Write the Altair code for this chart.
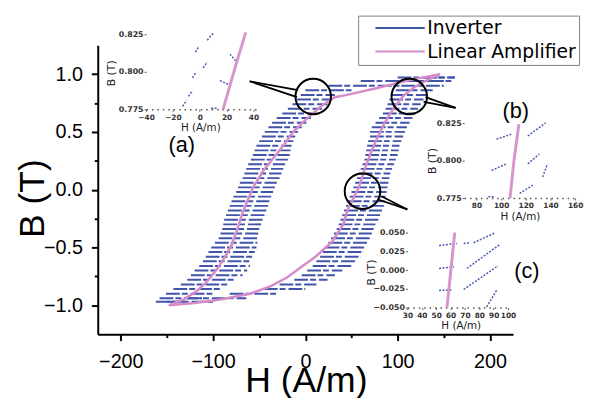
import altair as alt
import pandas as pd

# ---------------- main axes ----------------
x_ticks = [-200, -150, -100, -50, 0, 50, 100, 150, 200]
y_ticks = [-1.0, -0.75, -0.5, -0.25, 0.0, 0.25, 0.5, 0.75, 1.0]
series_names = ["Inverter", "Linear Amplifier"]
series_colors = ["#4254aa", "#d68cc8"]

# ---------------- inverter band (B level, left H, right H) ----------------
desc_B = [0.97, 0.94, 0.90, 0.86, 0.82, 0.78, 0.74, 0.70, 0.66, 0.62, 0.58, 0.54, 0.50,
          0.46, 0.42, 0.38, 0.34, 0.30, 0.26, 0.22, 0.18, 0.14, 0.10, 0.06, 0.02, -0.02,
          -0.06, -0.10, -0.14, -0.18, -0.22, -0.26, -0.30, -0.34, -0.38, -0.42, -0.46,
          -0.50, -0.54, -0.58, -0.62, -0.66, -0.70, -0.74, -0.78, -0.82, -0.86, -0.90,
          -0.94, -0.97]
desc_L = [100, 60, 25, 0, -5, -9, -14, -19, -25, -31, -36, -40, -44,
          -47, -50, -53, -55, -57, -59, -62, -64, -66, -68, -71, -73, -75,
          -78, -80, -82, -84, -86, -88, -89, -90, -92, -94, -98,
          -102, -105, -108, -111, -115, -120, -124, -128, -135, -143, -151,
          -158, -162]
desc_R = [162, 150, 105, 50, 32, 28, 24, 18, 12, 6, 1, -4, -8,
          -11, -13, -15, -16, -17, -19, -22, -24, -26, -28, -31, -33, -35,
          -37, -39, -40, -41, -42, -45, -48, -50, -51, -51, -52,
          -53, -54, -56, -58, -60, -63, -68, -76, -82, -90, -100,
          -112, -130]

asc_B = [-0.97, -0.94, -0.90, -0.86, -0.82, -0.78, -0.74, -0.70, -0.66, -0.62, -0.58,
         -0.54, -0.50, -0.46, -0.42, -0.38, -0.34, -0.30, -0.26, -0.22, -0.18, -0.14,
         -0.10, -0.06, -0.02, 0.02, 0.06, 0.10, 0.14, 0.18, 0.22, 0.26, 0.30, 0.34,
         0.38, 0.42, 0.46, 0.50, 0.54, 0.58, 0.62, 0.66, 0.70, 0.74, 0.78, 0.82, 0.86,
         0.90, 0.94, 0.97]
asc_L = [-150, -128, -82, -45, -28, -12, -4, 2, 8, 12, 16,
         19, 22, 25, 28, 31, 34, 36, 38, 40, 42, 44,
         46, 48, 50, 52, 54, 56, 58, 60, 62, 64, 65, 66,
         67, 68, 70, 70, 72, 76, 80, 84, 87, 89, 91, 93, 98,
         104, 108, 128]
asc_R = [-100, -64, -30, 0, 12, 24, 32, 40, 50, 55, 60,
         63, 66, 68, 70, 72, 74, 76, 79, 81, 83, 85,
         86, 87, 88, 89, 90, 91, 92, 94, 96, 98, 100, 101,
         102, 104, 106, 108, 110, 113, 116, 119, 122, 125, 128, 131, 138,
         150, 160, 162]

# ---------------- linear amplifier loop ----------------
pink_H = [146, 114, 78, 45, 32, 20, 8, -3, -13, -24, -32, -45, -56, -63, -69, -74, -80,
          -87, -95, -106, -118, -132, -148,
          -120, -92, -60, -39, -20, -3, 11, 29, 41, 46, 53, 58, 64, 71, 78, 86, 96, 106,
          117, 130, 146]
pink_B = [1.00, 0.95, 0.88, 0.82, 0.80, 0.74, 0.66, 0.58, 0.50, 0.38, 0.30, 0.17, 0.03,
          -0.10, -0.22, -0.35, -0.48, -0.58, -0.68, -0.79, -0.88, -0.95, -1.00,
          -0.98, -0.95, -0.90, -0.84, -0.76, -0.66, -0.58, -0.45, -0.30, -0.17, -0.06,
          0.02, 0.17, 0.32, 0.45, 0.58, 0.71, 0.81, 0.88, 0.94, 1.00]

# ---------------- magnifier circles and their tails ----------------
circle_H = [8.5, 112.6, 61.9]
circle_B = [0.806, 0.806, -0.013]
tail_H1 = [-8.0, -9.1, 130.2, 128.1, 82.4, 78.8]
tail_B1 = [0.861, 0.801, 0.801, 0.759, -0.057, -0.085]
tail_H2 = [-60.3, -60.3, 162.8, 162.8, 110.5, 110.5]
tail_B2 = [0.938, 0.938, 0.708, 0.708, -0.171, -0.171]
panel_text = ["(a)", "(b)", "(c)"]
panel_H = [-133.9, 228.0, 240.1]
panel_B = [0.39, 0.682, -0.708]

# ---------------- inset (a) ----------------
a_x_ticks = [-40, -20, 0, 20, 40]
a_y_ticks = [0.775, 0.800, 0.825]
a_pink_H = [17.4, 27.6, 34.3]
a_pink_B = [0.775, 0.8066, 0.8263]
a_seg_H1 = [5.6, -3.2, 22.5, 2.6, -5.4, 15.1, -8.4, -12.8, 8.5]
a_seg_B1 = [0.8211, 0.8132, 0.8118, 0.8026, 0.7960, 0.7941, 0.7836, 0.7770, 0.7757]
a_seg_H2 = [10.0, -0.3, 26.9, 5.6, -2.5, 21.8, -5.4, -9.9, 12.9]
a_seg_B2 = [0.8257, 0.8171, 0.8072, 0.8066, 0.8000, 0.7914, 0.7875, 0.7809, 0.7757]

# ---------------- inset (b) ----------------
b_x_ticks = [80, 100, 120, 140, 160]
b_y_ticks = [0.775, 0.800, 0.825]
b_pink_H = [107.2, 110.4, 114.4]
b_pink_B = [0.775, 0.800, 0.8243]
b_seg_H1 = [96.2, 92.2, 121.6, 121.6, 115.0, 133.6, 89.6]
b_seg_B1 = [0.8143, 0.7934, 0.8164, 0.7978, 0.7781, 0.7890, 0.7759]
b_seg_H2 = [108.2, 104.2, 136.2, 131.0, 125.6, 137.6, 95.0]
b_seg_B2 = [0.8176, 0.7978, 0.8252, 0.8044, 0.7836, 0.7978, 0.7759]

# ---------------- inset (c) ----------------
c_x_ticks = [30, 40, 50, 60, 70, 80, 90, 100]
c_y_ticks = [-0.050, -0.025, 0.000, 0.025, 0.050]
c_pink_H = [57.5, 60.2, 62.9]
c_pink_B = [-0.05, 0.0, 0.05]
c_seg_H1 = [52.0, 69.1, 76.0, 52.0, 71.4, 52.0, 69.1, 85.1]
c_seg_B1 = [0.0329, 0.0355, 0.0364, 0.0022, 0.0022, -0.0272, -0.0259, -0.0491]
c_seg_H2 = [64.5, 73.7, 90.9, 62.3, 94.3, 61.1, 93.1, 92.0]
c_seg_B2 = [0.0355, 0.0364, 0.0496, 0.0043, 0.0342, -0.0263, 0.0057, -0.0272]

INSET_BLUE = "#4a5ab2"
INSET_PINK = "#d795ce"

# ---------------- main layer ----------------
band_df = pd.DataFrame({"B": desc_B + asc_B, "L": desc_L + asc_L, "R": desc_R + asc_R,
                        "series": "Inverter"})
pink_df = pd.DataFrame({"H": pink_H, "B": pink_B, "idx": list(range(len(pink_H))),
                        "series": "Linear Amplifier"})
circ_df = pd.DataFrame({"H": circle_H, "B": circle_B})
tail_df = pd.DataFrame({"H1": tail_H1, "B1": tail_B1, "H2": tail_H2, "B2": tail_B2})
lab_df = pd.DataFrame({"H": panel_H, "B": panel_B, "t": panel_text})

xs = alt.Scale(domain=[-225, 225], nice=False, zero=False)
ys = alt.Scale(domain=[-1.25, 1.25], nice=False, zero=False)
cscale = alt.Scale(domain=series_names, range=series_colors)

common_axis = dict(grid=False, domainColor="black", domainWidth=2, tickColor="black",
                   tickWidth=2, labelFont="Liberation Sans", labelFontSize=20,
                   labelColor="black", labelFlush=False, labelOverlap=False,
                   titleFont="Liberation Sans", titleFontSize=36, titleFontWeight="normal",
                   titleColor="black", titleBaseline="middle", titleAlign="center")

x_axis = alt.Axis(orient="bottom", values=x_ticks, format="d", title="H (A/m)",
                  labelExpr="abs(datum.value) % 100 == 0 ? datum.label : ''",
                  tickSize={"condition": {"test": "abs(datum.value) % 100 != 0", "value": 3.5},
                            "value": 6.5},
                  labelPadding=11, titleX=211, titleY=47, **common_axis)
y_axis = alt.Axis(orient="left", values=y_ticks, format=".1f", title="B (T)",
                  labelExpr="abs(datum.value * 100) % 50 == 0 ? datum.label : ''",
                  tickSize={"condition": {"test": "abs(datum.value * 100) % 50 != 0", "value": 3.5},
                            "value": 6.5},
                  labelPadding=9, titleX=-65.5, titleY=155, titleAngle=-90, **common_axis)

legend = alt.Legend(title=None, orient="none", legendX=264, legendY=-30,
                    symbolType="M-5,0H5", symbolSize=100, symbolStrokeWidth=2,
                    symbolOffset=30, labelFont="DejaVu Sans",
                    labelFontSize=19, labelColor="black", padding=3, rowPadding=4,
                    labelOffset=18, strokeColor="#808080", fillColor="white", cornerRadius=0)

band = alt.Chart(band_df).mark_rule(strokeWidth=2, strokeDash=[14, 2, 6, 3]).encode(
    x=alt.X("L:Q", scale=xs, axis=x_axis), x2="R:Q",
    y=alt.Y("B:Q", scale=ys, axis=y_axis),
    color=alt.Color("series:N", scale=cscale, legend=legend))
pink = alt.Chart(pink_df).mark_line(strokeWidth=2.5).encode(
    x=alt.X("H:Q", scale=xs, axis=x_axis), y=alt.Y("B:Q", scale=ys, axis=y_axis),
    order="idx:Q", color=alt.Color("series:N", scale=cscale, legend=legend))
circles = alt.Chart(circ_df).mark_point(shape="circle", filled=False, color="black",
                                        strokeWidth=2, size=1296, opacity=1).encode(
    x=alt.X("H:Q", scale=xs, axis=x_axis), y=alt.Y("B:Q", scale=ys, axis=y_axis))
tails = alt.Chart(tail_df).mark_rule(color="black", strokeWidth=1.8).encode(
    x=alt.X("H1:Q", scale=xs, axis=x_axis), y=alt.Y("B1:Q", scale=ys, axis=y_axis),
    x2="H2:Q", y2="B2:Q")
labels = alt.Chart(lab_df).mark_text(font="Liberation Sans", fontSize=22, color="black",
                                     baseline="middle", align="center").encode(
    x=alt.X("H:Q", scale=xs, axis=x_axis), y=alt.Y("B:Q", scale=ys, axis=y_axis),
    text="t:N")

main = alt.layer(band, pink, circles, tails, labels)


# ---------------- insets ----------------
def inset(xdom, xrange_, ydom, yrange_, xvals, yvals, xoff, yoff, xt, yt,
          pH, pB, sH1, sB1, sH2, sB2):
    sx = alt.Scale(domain=xdom, range=xrange_, nice=False, zero=False)
    sy = alt.Scale(domain=ydom, range=yrange_, nice=False, zero=False)
    ax = alt.Axis(orient="bottom", offset=xoff, values=xvals, format="d", title="H (A/m)",
                  grid=False, domainDash=[1.5, 4], domainColor="#555", domainWidth=1.5,
                  tickColor="#555", tickSize=2, tickWidth=1, labelFont="DejaVu Sans",
                  labelFontSize=7.5, labelFontWeight="bold", labelColor="#333",
                  labelPadding=2, labelFlush=False, labelOverlap=False,
                  titleFont="DejaVu Sans", titleFontSize=10.5, titleFontWeight="normal",
                  titleColor="#222", titleX=xt[0], titleY=xt[1], titleBaseline="middle",
                  titleAlign="center")
    ay = alt.Axis(orient="left", offset=yoff, values=yvals, format=".3f", title="B (T)",
                  grid=False, domain=False, tickColor="#555", tickSize=2, tickWidth=1,
                  labelFont="DejaVu Sans", labelFontSize=8, labelFontWeight="bold",
                  labelColor="#333", labelPadding=1, labelFlush=False, labelOverlap=False,
                  titleFont="DejaVu Sans", titleFontSize=11, titleFontWeight="normal",
                  titleColor="#222", titleX=yt[0], titleY=yt[1], titleAngle=-90,
                  titleBaseline="middle", titleAlign="center")
    pdf = pd.DataFrame({"H": pH, "B": pB, "idx": list(range(len(pH)))})
    sdf = pd.DataFrame({"H1": sH1, "B1": sB1, "H2": sH2, "B2": sB2})
    segs = alt.Chart(sdf).mark_rule(color=INSET_BLUE, strokeWidth=1.5,
                                    strokeDash=[2, 1.5]).encode(
        x=alt.X("H1:Q", scale=sx, axis=ax), y=alt.Y("B1:Q", scale=sy, axis=ay),
        x2="H2:Q", y2="B2:Q")
    line = alt.Chart(pdf).mark_line(color=INSET_PINK, strokeWidth=3).encode(
        x=alt.X("H:Q", scale=sx, axis=ax), y=alt.Y("B:Q", scale=sy, axis=ay),
        order="idx:Q")
    return alt.layer(segs, line)


inset_a = inset([-40, 45], [49, 164.6], [0.775, 0.825], [65, -11], a_x_ticks, a_y_ticks,
                -228, -49, (104, 18.5), (-35, 28),
                a_pink_H, a_pink_B, a_seg_H1, a_seg_B1, a_seg_H2, a_seg_B2)
inset_b = inset([70, 160], [371.5, 484], [0.775, 0.825], [155, 79], b_x_ticks, b_y_ticks,
                -138, -371.5, (428, 18.5), (-32.5, 117),
                b_pink_H, b_pink_B, b_seg_H1, b_seg_B1, b_seg_H2, b_seg_B2)
inset_c = inset([30, 100], [314, 416], [-0.05, 0.05], [266, 190], c_x_ticks, c_y_ticks,
                -27, -314, (368, 18.5), (-36, 230),
                c_pink_H, c_pink_B, c_seg_H1, c_seg_B1, c_seg_H2, c_seg_B2)

chart = alt.layer(main, inset_a, inset_b, inset_c).resolve_scale(
    x="independent", y="independent"
).properties(
    width=421, height=293,
    autosize=alt.AutoSizeParams(type="none"),
    padding={"left": 91, "top": 35, "right": 72, "bottom": 62},
).configure_view(strokeWidth=0)

chart.save("out.html", embed_options={"renderer": "svg", "actions": False})
